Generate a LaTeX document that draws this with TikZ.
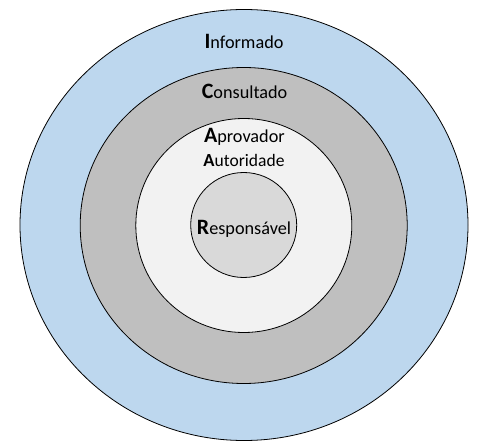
\documentclass[tikz,border=0pt]{standalone}
\usepackage{fontspec}
\setmainfont{Carlito}
\usetikzlibrary{shapes.geometric}
\definecolor{ringI}{RGB}{189,215,238}
\definecolor{ringC}{RGB}{191,191,191}
\definecolor{ringA}{RGB}{242,242,242}
\definecolor{ringR}{RGB}{217,217,217}
\newcommand{\capL}[1]{{\fontsize{22}{24}\selectfont\bfseries #1}}
\newcommand{\capS}[1]{{\fontsize{18.5}{20}\selectfont\bfseries #1}}
\newcommand{\lowL}[1]{{\fontsize{18.3}{20}\selectfont #1}}
\newcommand{\lowS}[1]{{\fontsize{17.6}{19}\selectfont #1}}
\begin{document}
\begin{tikzpicture}[x=1bp,y=-1bp,
  ring/.style={ellipse, draw=black, line width=0.8bp, inner sep=0pt, outer sep=0pt},
  lbl/.style={anchor=base, inner sep=0pt, text=black}]
\useasboundingbox (0,0) rectangle (486,447);
\node[ring, fill=ringI, minimum width=448bp, minimum height=431bp] (outer) at (244,225) {};
\node[ring, fill=ringC, minimum width=327bp, minimum height=316bp] (second) at (243.7,225.5) {};
\node[ring, fill=ringA, minimum width=216bp, minimum height=214bp] (third) at (243.8,225.5) {};
\node[ring, fill=ringR, minimum width=106bp, minimum height=105bp] (inner) at (243.7,225) {};
\node[lbl] (inf) at (244,48.7) {\capL{I}\lowL{nformado}};
\node[lbl] (con) at (244.6,98.7) {\capL{C}\lowL{onsultado}};
\node[lbl] (apr) at (244.4,143) {\capL{A}\lowL{provador}};
\node[lbl] (aut) at (244,166.3) {\capS{A}\lowS{utoridade}};
\node[lbl] (res) at (244,235) {\capL{R}\lowL{esponsável}};
\end{tikzpicture}
\end{document}
